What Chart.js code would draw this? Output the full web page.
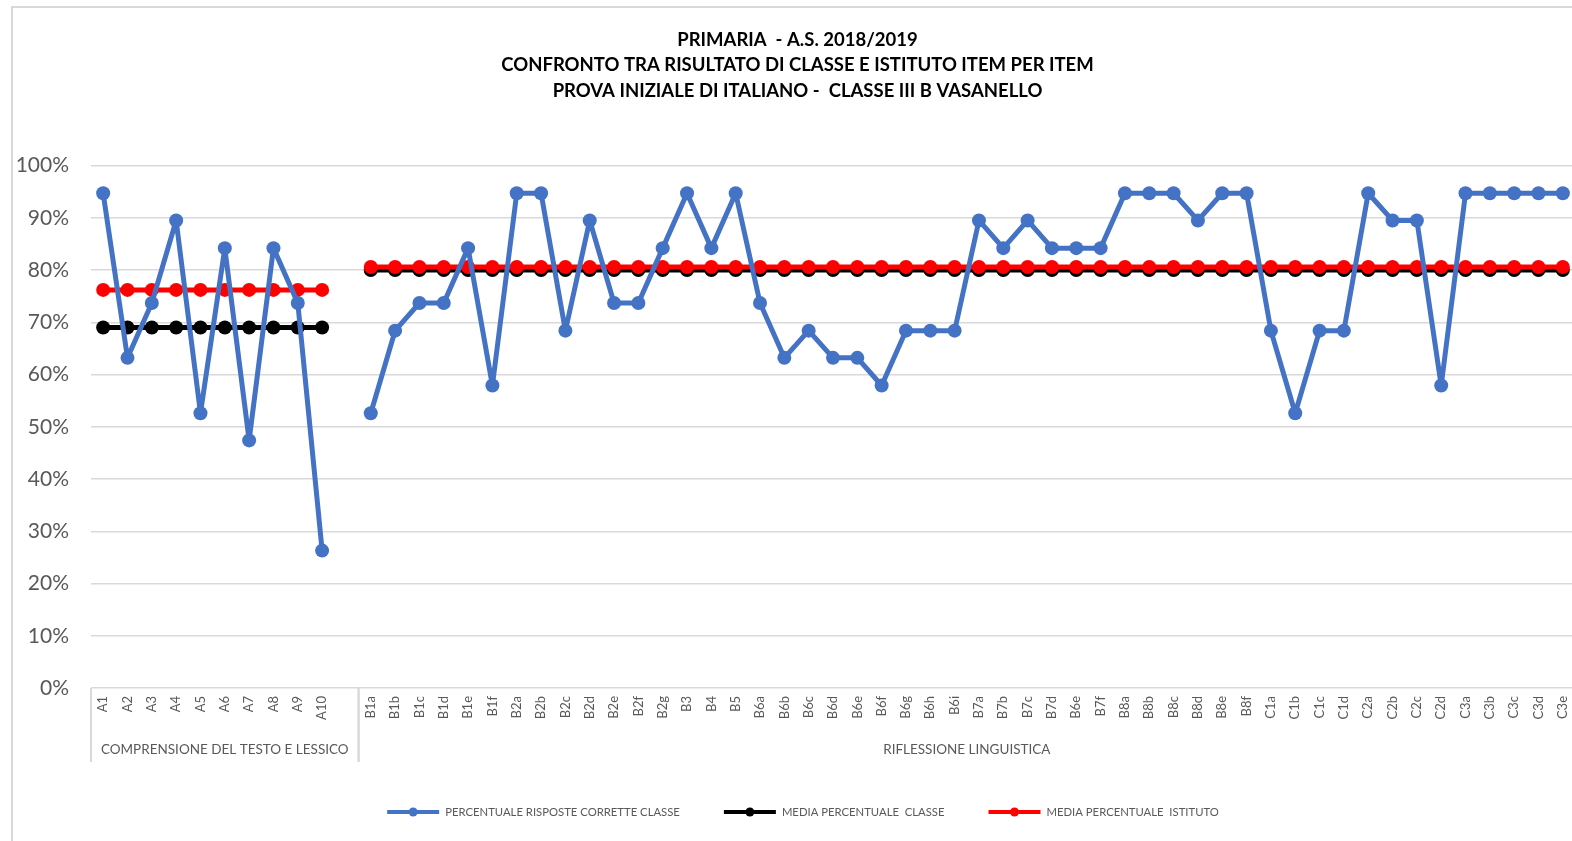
<!DOCTYPE html>
<html>
<head>
<meta charset="utf-8">
<script src="https://cdn.jsdelivr.net/npm/chart.js@4.4.0/dist/chart.umd.min.js"></script>
<style>
  html, body { margin: 0; padding: 0; background: #fff; overflow: hidden; }
  #cornice { position: absolute; left: 11px; top: 6px; width: 1600px; height: 900px;
    border-left: 2px solid #d9d9d9; border-top: 2px solid #d9d9d9; }
  #contenitore { position: absolute; left: 0; top: 0; width: 1590px; height: 841px; }
</style>
</head>
<body>
<div id="cornice"></div>
<div id="contenitore"><canvas id="graficoItem"></canvas></div>
<script>
// etichette item (la voce vuota separa i due gruppi)
var itemLabels = [
  "A1", "A2", "A3", "A4", "A5", "A6", "A7", "A8", "A9", "A10", "",
  "B1a", "B1b", "B1c", "B1d", "B1e", "B1f",
  "B2a", "B2b", "B2c", "B2d", "B2e", "B2f", "B2g",
  "B3", "B4", "B5",
  "B6a", "B6b", "B6c", "B6d", "B6e", "B6f", "B6g", "B6h", "B6i",
  "B7a", "B7b", "B7c", "B7d", "B6e", "B7f",
  "B8a", "B8b", "B8c", "B8d", "B8e", "B8f",
  "C1a", "C1b", "C1c", "C1d",
  "C2a", "C2b", "C2c", "C2d",
  "C3a", "C3b", "C3c", "C3d", "C3e"
];

// gruppi dell'asse: nome e numero di categorie
var gruppiNomi = ["COMPRENSIONE DEL TESTO E LESSICO", "RIFLESSIONE LINGUISTICA"];
var gruppiConteggio = [11, 50];

// percentuale risposte corrette classe
var percClasse = [
  94.7, 63.2, 73.7, 89.5, 52.6, 84.2, 47.4, 84.2, 73.7, 26.3, null,
  52.6, 68.4, 73.7, 73.7, 84.2, 57.9,
  94.7, 94.7, 68.4, 89.5, 73.7, 73.7, 84.2,
  94.7, 84.2, 94.7,
  73.7, 63.2, 68.4, 63.2, 63.2, 57.9, 68.4, 68.4, 68.4,
  89.5, 84.2, 89.5, 84.2, 84.2, 84.2,
  94.7, 94.7, 94.7, 89.5, 94.7, 94.7,
  68.4, 52.6, 68.4, 68.4,
  94.7, 89.5, 89.5, 57.9,
  94.7, 94.7, 94.7, 94.7, 94.7
];

// medie per gruppo
var mediaClasse = [69.0, 80.0];
var mediaIstituto = [76.2, 80.6];

var yTicks = [0, 10, 20, 30, 40, 50, 60, 70, 80, 90, 100];

var titolo = [
  "PRIMARIA  - A.S. 2018/2019",
  "CONFRONTO TRA RISULTATO DI CLASSE E ISTITUTO ITEM PER ITEM",
  "PROVA INIZIALE DI ITALIANO -  CLASSE III B VASANELLO"
];

function serieMedia(valori) {
  var out = [];
  gruppiConteggio.forEach((n, g) => {
    for (var i = 0; i < n; i++) {
      out.push(itemLabels[out.length] === "" ? null : valori[g]);
    }
  });
  return out;
}

// etichette dei gruppi sotto l'asse x
const gruppiPlugin = {
  id: "gruppi",
  afterDraw(chart) {
    const x = chart.scales.x;
    const ctx = chart.ctx;
    const mezzo = (x.getPixelForValue(1) - x.getPixelForValue(0)) / 2;
    const top = chart.chartArea.bottom;
    ctx.save();
    ctx.strokeStyle = "#d9d9d9";
    ctx.lineWidth = 2;
    ctx.fillStyle = "#595959";
    ctx.font = "13.5px Lato";
    ctx.textAlign = "center";
    ctx.textBaseline = "middle";
    var start = 0;
    gruppiNomi.forEach((nome, g) => {
      var fine = start + gruppiConteggio[g] - 1;
      var sx = x.getPixelForValue(start) - mezzo;
      var dx = x.getPixelForValue(fine) + mezzo;
      [sx, dx].forEach((px) => {
        ctx.beginPath();
        ctx.moveTo(px, top);
        ctx.lineTo(px, top + 74);
        ctx.stroke();
      });
      ctx.fillText(nome, (sx + dx) / 2, top + 62);
      start = fine + 1;
    });
    ctx.restore();
  },
};

// legenda stile Excel: linea con marcatore
const legendaPlugin = {
  id: "legendaExcel",
  afterDraw(chart) {
    const ctx = chart.ctx;
    const sets = chart.data.datasets;
    const lineaW = 52, gap = 6, spazio = 44;
    ctx.save();
    ctx.font = "11.3px Lato";
    ctx.textBaseline = "middle";
    var larghezze = sets.map((d) => ctx.measureText(d.label).width);
    var totale = larghezze.reduce((a, b) => a + b, 0) + sets.length * (lineaW + gap) + (sets.length - 1) * spazio;
    var cx = (chart.chartArea.left + chart.chartArea.right) / 2 - 30;
    var xx = cx - totale / 2;
    var y = chart.height - 29;
    sets.forEach((d, i) => {
      ctx.strokeStyle = d.borderColor;
      ctx.lineWidth = 4;
      ctx.beginPath();
      ctx.moveTo(xx, y);
      ctx.lineTo(xx + lineaW, y);
      ctx.stroke();
      ctx.fillStyle = d.borderColor;
      ctx.beginPath();
      ctx.arc(xx + lineaW / 2, y, 4.5, 0, Math.PI * 2);
      ctx.fill();
      ctx.fillStyle = "#595959";
      ctx.fillText(d.label, xx + lineaW + gap, y);
      xx += lineaW + gap + larghezze[i] + spazio;
    });
    ctx.restore();
  },
};

const ctx = document.getElementById("graficoItem");

window.graficoItem = new Chart(ctx, {
  type: "line",
  data: {
    labels: itemLabels,
    datasets: [
      {
        label: "PERCENTUALE RISPOSTE CORRETTE CLASSE",
        data: percClasse,
        borderColor: "#4472C4",
        pointBackgroundColor: "#4472C4",
        pointBorderColor: "#4472C4",
        order: 0,
      },
      {
        label: "MEDIA PERCENTUALE  CLASSE",
        data: serieMedia(mediaClasse),
        borderColor: "#000000",
        pointBackgroundColor: "#000000",
        pointBorderColor: "#000000",
        order: 2,
      },
      {
        label: "MEDIA PERCENTUALE  ISTITUTO",
        data: serieMedia(mediaIstituto),
        borderColor: "#FF0000",
        pointBackgroundColor: "#FF0000",
        pointBorderColor: "#FF0000",
        order: 1,
      },
    ],
  },
  options: {
    responsive: true,
    maintainAspectRatio: false,
    animation: false,
    spanGaps: false,
    elements: {
      line: { borderWidth: 5, tension: 0, borderJoinStyle: "round", borderCapStyle: "round" },
      point: { radius: 7, borderWidth: 0, pointStyle: "circle" },
    },
    layout: { padding: { top: 27, left: 11, right: 6, bottom: 45 } },
    plugins: {
      title: {
        display: true,
        text: titolo,
        color: "#000000",
        font: { family: "Lato", size: 18.5, weight: "bold", lineHeight: 1.38 },
        padding: { top: 0, bottom: 62 },
      },
      legend: { display: false },
      tooltip: { enabled: false },
    },
    scales: {
      x: {
        type: "category",
        offset: true,
        grid: { display: false, drawTicks: false },
        border: { display: false },
        ticks: {
          autoSkip: false,
          maxRotation: 90,
          minRotation: 90,
          padding: 8,
          color: "#595959",
          font: { family: "Lato", size: 13 },
        },
        afterFit: function (scale) {
          scale.height = 108;
        },
      },
      y: {
        min: 0,
        max: 100,
        afterBuildTicks: function (scale) {
          scale.ticks = yTicks.map((v) => ({ value: v }));
        },
        grid: { color: "#d9d9d9", lineWidth: 1.5, drawTicks: false },
        border: { display: false },
        ticks: {
          padding: 22,
          color: "#595959",
          font: { family: "Lato", size: 21 },
          callback: (v) => v + "%",
        },
        afterFit: function (scale) {
          scale.width = 80;
        },
      },
      yr: {
        position: "right",
        display: true,
        grid: { display: false, drawTicks: false },
        border: { display: false },
        ticks: { display: false },
        afterFit: function (scale) {
          scale.width = 9;
        },
      },
    },
  },
  plugins: [gruppiPlugin, legendaPlugin],
});
</script>
</body>
</html>
